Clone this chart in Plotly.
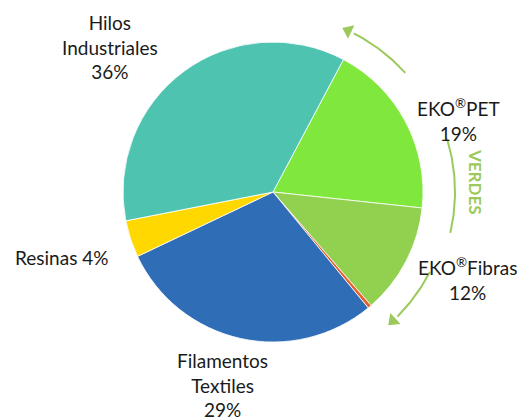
import numpy as np
import plotly.graph_objects as go

# ---- data ----
labels = ["EKO<sup>®</sup>PET", "EKO<sup>®</sup>Fibras", "Otros", "Filamentos<br>Textiles", "Resinas", "Hilos<br>Industriales"]
values = [19, 12, 0.4, 29, 4, 36]
colors = ["#80E83C", "#92D050", "#E8602C", "#2F6DB7", "#FFD800", "#4EC4B0"]

W, H = 518, 418
cx, cy, R = 273, 192, 150
FONT = "Lato, Open Sans, sans-serif"

fig = go.Figure()
fig.add_trace(go.Pie(
    values=values, labels=labels, sort=False, direction="clockwise", rotation=28,
    marker=dict(colors=colors, line=dict(color="white", width=0.8)),
    textinfo="none", hoverinfo="label+percent", showlegend=False,
    domain=dict(x=[(cx - R) / W, (cx + R) / W], y=[1 - (cy + R) / H, 1 - (cy - R) / H]),
))

# label annotations (pixel positions on hidden overlay axes)
label_pos = {
    0: (458, 120),
    1: (467, 279),
    3: (222, 385),
    4: (62, 257),
    5: (110, 47),
}
total = sum(values)
for i, (x, y) in label_pos.items():
    pct = round(values[i] / total * 100)
    lab = labels[i]
    txt = f"{lab} {pct}%" if i == 4 else f"{lab}<br>{pct}%"
    fig.add_annotation(x=x, y=y, xref="x", yref="y", text=txt, showarrow=False,
                       font=dict(family=FONT, size=19, color="#1a1a1a"), align="center")

# curved arrows around the pie
arrow_color = "#9CC95C"
arcs = [(48, 27, 178), (73, 103, 182), (117, 135, 176)]
for a0, a1, r in arcs:
    t = np.radians(np.linspace(a0, a1, 40))
    fig.add_trace(go.Scatter(x=cx + r * np.sin(t), y=cy - r * np.cos(t), mode="lines",
                             line=dict(color=arrow_color, width=2),
                             hoverinfo="skip", showlegend=False))
# arrowheads (tip angle, direction sign, radius)
for a_tip, sgn, r in [(25, -1, 178), (137, 1, 176)]:
    th = np.radians(a_tip)
    dx, dy = sgn * np.cos(th), sgn * np.sin(th)
    heading = np.degrees(np.arctan2(dx, -dy))
    fig.add_trace(go.Scatter(x=[cx + r * np.sin(th)], y=[cy - r * np.cos(th)], mode="markers",
                             marker=dict(symbol="triangle-up", size=13, angle=heading,
                                         color=arrow_color, line=dict(width=0)),
                             hoverinfo="skip", showlegend=False))

fig.add_annotation(x=476, y=182, xref="x", yref="y", text="<b>VERDES</b>", showarrow=False,
                   textangle=90, font=dict(family=FONT, size=17, color="#9CC95C"))

fig.update_layout(
    width=W, height=H, margin=dict(l=0, r=0, t=0, b=0),
    paper_bgcolor="white", plot_bgcolor="rgba(0,0,0,0)",
    xaxis=dict(range=[0, W], visible=False, fixedrange=True),
    yaxis=dict(range=[H, 0], visible=False, fixedrange=True),
)
fig.write_html("out.html", config={"displayModeBar": False},
               post_script="document.body.style.margin='0';document.body.style.overflow='hidden';")
